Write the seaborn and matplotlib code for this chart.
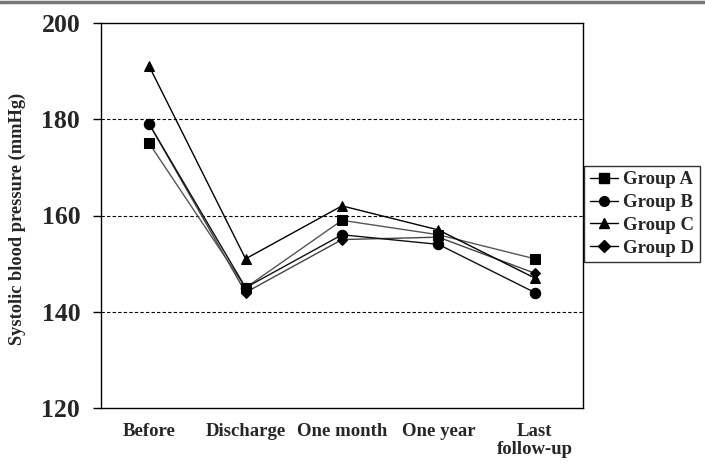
import matplotlib
matplotlib.use("Agg")
import matplotlib.pyplot as plt
import seaborn as sns
import pandas as pd
from matplotlib.lines import Line2D

timepoints = ["Before", "Discharge", "One month", "One year", "Last\nfollow-up"]
groups = ["Group A", "Group B", "Group C", "Group D"]
group_a = [175, 145, 159, 156, 151]
group_b = [179, 145, 156, 154, 144]
group_c = [191, 151, 162, 157, 147]
group_d = [179, 144, 155, 155.5, 148]

values = {"Group A": group_a, "Group B": group_b, "Group C": group_c, "Group D": group_d}
rows = []
for g in groups:
    for i, (t, v) in enumerate(zip(timepoints, values[g])):
        rows.append({"group": g, "time": i, "sbp": v})
df = pd.DataFrame(rows)

sns.set_theme(style="white")
plt.rcParams["font.family"] = ["Liberation Serif", "DejaVu Serif"]
plt.rcParams["font.weight"] = "bold"

fig = plt.figure(figsize=(7.05, 4.7), dpi=100)
ax = fig.add_axes([101/705, 62/470, 482/705, 385/470])

markers = {"Group A": "s", "Group B": "o", "Group C": "^", "Group D": "D"}
palette = {"Group A": "#555555", "Group B": "#111111", "Group C": "#000000", "Group D": "#444444"}
sns.lineplot(data=df, x="time", y="sbp", hue="group", style="group",
             markers=markers, dashes=False, palette=palette, ax=ax,
             linewidth=1.0, markersize=7, legend=False)
for ln in ax.lines:
    ln.set_markerfacecolor("black")
    ln.set_markeredgecolor("black")
    ln.set_zorder(3)
    if ln.get_marker() == "D":
        ln.set_markersize(5.5)
        ln.set_zorder(2.5)
    if ln.get_marker() == "o":
        ln.set_markersize(7.5)
        ln.set_zorder(3.5)

ax.set_xlim(-0.5, 4.5)
ax.set_ylim(120, 200)
ax.set_yticks([120, 140, 160, 180, 200])
ax.set_xticks(range(len(timepoints)))
ax.set_xticklabels(timepoints, fontsize=13.5, fontweight="bold", linespacing=1.05)
ax.tick_params(axis="x", length=0, pad=11)
ax.tick_params(axis="y", length=6, width=1, direction="out", color="black", labelsize=18.5, pad=9, left=True)
for lab in ax.get_yticklabels():
    lab.set_fontweight("bold")
for y in [140, 160, 180]:
    ax.axhline(y, color="black", linestyle=(0, (3, 2)), linewidth=0.8, zorder=0)
for sp in ax.spines.values():
    sp.set_visible(True)
    sp.set_color("black")
    sp.set_linewidth(1.0)
ax.set_xlabel("")
ax.set_ylabel("Systolic blood pressure (mmHg)", fontsize=13.2, fontweight="bold")
ax.yaxis.set_label_coords(-0.155, 0.49)

handles = [Line2D([0], [0], color="black", lw=1, marker=markers[g], markersize=7 if markers[g] != "D" else 6,
                  markerfacecolor="black", markeredgecolor="black") for g in groups]
leg = fig.legend(handles, groups, loc="center left", bbox_to_anchor=(584/705, 1 - 214/470),
                 frameon=True, fancybox=False, edgecolor="black", handlelength=1.5,
                 handletextpad=0.3, borderpad=0.3, labelspacing=0.3, borderaxespad=0,
                 prop={"family": "Liberation Serif", "weight": "bold", "size": 13.5})
leg.get_frame().set_linewidth(1.0)

fig.add_artist(Line2D([0, 1], [1 - 1.5/470, 1 - 1.5/470], color="#777777", lw=2.5, transform=fig.transFigure))

fig.savefig("out.png", dpi=100, facecolor="white")
